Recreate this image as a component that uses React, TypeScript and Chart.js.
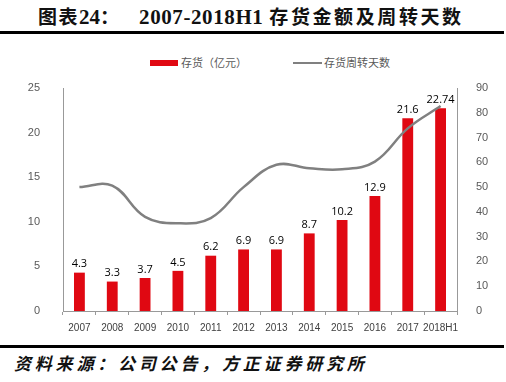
import React, { useEffect, useRef } from "react";
import { Chart, registerables } from "chart.js";

Chart.register(...registerables);

const categories = ["2007", "2008", "2009", "2010", "2011", "2012", "2013", "2014", "2015", "2016", "2017", "2018H1"];
const inventory = [4.3, 3.3, 3.7, 4.5, 6.2, 6.9, 6.9, 8.7, 10.2, 12.9, 21.6, 22.74];
const inventoryLabels = ["4.3", "3.3", "3.7", "4.5", "6.2", "6.9", "6.9", "8.7", "10.2", "12.9", "21.6", "22.74"];
const turnoverDays = [50.0, 50.6, 38.0, 35.4, 37.5, 50.0, 59.0, 57.6, 57.2, 60.3, 73.7, 82.7];

const barLabelPlugin = {
  id: "barLabels",
  afterDatasetsDraw(chart: any) {
    const meta = chart.getDatasetMeta(0);
    const ctx = chart.ctx;
    ctx.save();
    ctx.font = "11px 'Open Sans', sans-serif";
    ctx.fillStyle = "#000";
    ctx.textAlign = "center";
    ctx.textBaseline = "bottom";
    meta.data.forEach((bar: any, i: number) => {
      ctx.fillText(inventoryLabels[i], bar.x, bar.y - 3);
    });
    ctx.restore();
  },
};

export default function App() {
  const ref = useRef<HTMLCanvasElement>(null);
  useEffect(() => {
    if (!ref.current) return;
    const chart = new Chart(ref.current, {
      type: "bar",
      data: {
        labels: categories,
        datasets: [
          {
            type: "bar",
            label: "存货（亿元）",
            data: inventory,
            backgroundColor: "#E00812",
            yAxisID: "y",
            categoryPercentage: 1,
            barPercentage: 0.33,
            order: 2,
          },
          {
            type: "line",
            label: "存货周转天数",
            data: turnoverDays,
            borderColor: "#808080",
            borderWidth: 2.5,
            pointRadius: 0,
            tension: 0.4,
            yAxisID: "y1",
            order: 1,
          } as any,
        ],
      },
      options: {
        animation: false,
        responsive: false,
        layout: { padding: { top: 48, left: 0, right: 0, bottom: 0 } },
        plugins: { legend: { display: false }, tooltip: { enabled: false } },
        scales: {
          x: {
            grid: { display: true, offset: true, drawOnChartArea: false, tickLength: 4, color: "#999" },
            border: { color: "#999" },
            ticks: { color: "#404040", font: { size: 10, family: "'Liberation Sans', sans-serif" }, padding: 7, maxRotation: 0, autoSkip: false },
            afterFit: (s: any) => { s.height = 29; },
          },
          y: {
            position: "left",
            min: 0,
            max: 25,
            grid: { display: false },
            border: { color: "#999" },
            ticks: { stepSize: 5, color: "#595959", font: { size: 11, family: "'Liberation Sans', sans-serif" }, padding: 15 },
            afterFit: (s: any) => { s.width = 63; },
          },
          y1: {
            position: "right",
            min: 0,
            max: 90,
            grid: { display: false },
            border: { color: "#999" },
            ticks: { stepSize: 10, color: "#595959", font: { size: 11, family: "'Liberation Sans', sans-serif" }, padding: 11 },
            afterFit: (s: any) => { s.width = 49; },
          },
        },
      },
      plugins: [barLabelPlugin],
    });
    return () => chart.destroy();
  }, []);

  const cjk = "'Noto Sans CJK SC', sans-serif";
  return (
    <div style={{ position: "fixed", left: 0, top: 0, width: 506, height: 382, background: "#fff", overflow: "hidden" }}>
      <div style={{ position: "absolute", left: 38, top: 3, whiteSpace: "nowrap", fontWeight: "bold", fontSize: 19, color: "#111", lineHeight: "26px" }}>
        <span style={{ fontFamily: cjk, letterSpacing: 1.5 }}>图表</span>
        <span style={{ fontFamily: "'Liberation Serif', serif", fontSize: 21 }}>24</span>
        <span style={{ fontFamily: cjk }}>：</span>
        <span style={{ display: "inline-block", width: 20 }}></span>
        <span style={{ fontFamily: "'Liberation Serif', serif", fontSize: 21, letterSpacing: 0.6 }}>2007-2018H1 </span>
        <span style={{ fontFamily: cjk, letterSpacing: 2.6 }}>存货金额及周转天数</span>
      </div>
      <div style={{ position: "absolute", left: 0, top: 31, width: 504, height: 3, background: "#000" }} />
      <div style={{ position: "absolute", left: 150, top: 60, width: 28, height: 6, background: "#E00812" }} />
      <div style={{ position: "absolute", left: 181, top: 55, fontFamily: cjk, fontSize: 11, color: "#595959", lineHeight: "15px" }}>存货（亿元）</div>
      <div style={{ position: "absolute", left: 293, top: 62, width: 29, height: 2, background: "#808080" }} />
      <div style={{ position: "absolute", left: 324, top: 55, fontFamily: cjk, fontSize: 11, color: "#595959", lineHeight: "15px" }}>存货周转天数</div>
      <canvas ref={ref} width={506} height={300} style={{ position: "absolute", left: 0, top: 40, width: 506, height: 300 }} />
      <div style={{ position: "absolute", left: 0, top: 345, width: 504, height: 3, background: "#000" }} />
      <div style={{ position: "absolute", left: 14, top: 351, fontFamily: cjk, fontSize: 17, fontWeight: "bold", fontStyle: "italic", letterSpacing: 3.8, color: "#111", lineHeight: "24px", whiteSpace: "nowrap" }}>资料来源：公司公告，方正证券研究所</div>
    </div>
  );
}
